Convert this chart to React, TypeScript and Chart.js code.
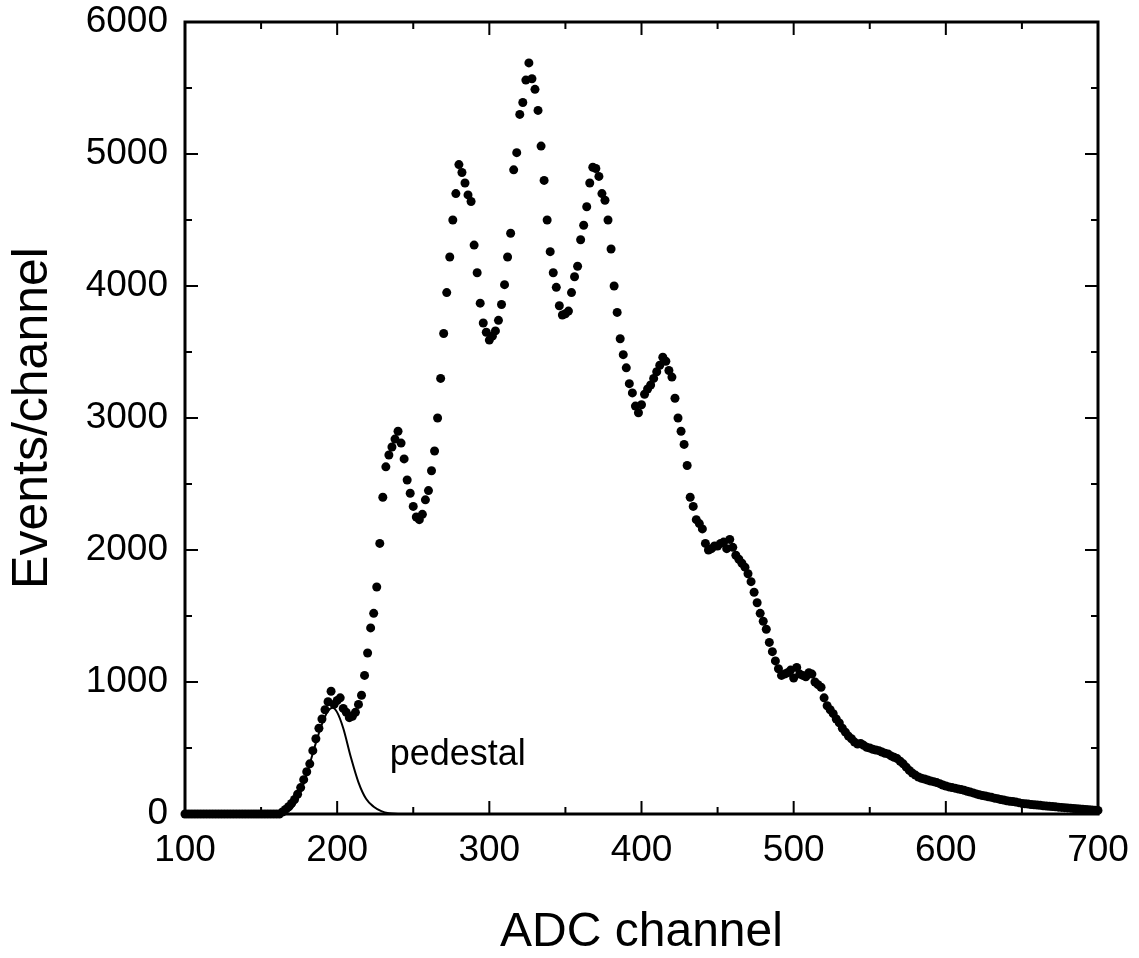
import React, { useEffect, useRef } from "react";
import { Chart, registerables } from "chart.js";

Chart.register(...registerables);

// ADC spectrum: counts per channel, channels 100..700 in steps of 2
const countsByRow: number[][] = [
  /* 100 */ [0, 0, 0, 0, 0, 0, 0, 0, 0, 0],
  /* 120 */ [0, 0, 0, 0, 0, 0, 0, 0, 0, 0],
  /* 140 */ [0, 0, 0, 0, 0, 0, 0, 0, 0, 0],
  /* 160 */ [0, 0, 15, 35, 55, 80, 110, 150, 200, 260],
  /* 180 */ [320, 380, 480, 570, 650, 720, 790, 850, 930, 830],
  /* 200 */ [860, 880, 800, 770, 730, 740, 770, 830, 900, 1050],
  /* 220 */ [1220, 1410, 1520, 1720, 2050, 2400, 2630, 2720, 2780, 2840],
  /* 240 */ [2900, 2810, 2690, 2530, 2430, 2330, 2250, 2230, 2270, 2380],
  /* 260 */ [2450, 2600, 2750, 3000, 3300, 3640, 3950, 4220, 4500, 4700],
  /* 280 */ [4920, 4860, 4780, 4690, 4640, 4310, 4100, 3870, 3720, 3650],
  /* 300 */ [3590, 3620, 3660, 3740, 3860, 4010, 4220, 4400, 4880, 5010],
  /* 320 */ [5300, 5390, 5560, 5690, 5570, 5490, 5330, 5060, 4800, 4500],
  /* 340 */ [4260, 4100, 3990, 3850, 3780, 3790, 3810, 3950, 4070, 4150],
  /* 360 */ [4350, 4460, 4600, 4780, 4900, 4890, 4830, 4700, 4650, 4500],
  /* 380 */ [4280, 4000, 3800, 3600, 3480, 3380, 3260, 3190, 3090, 3040],
  /* 400 */ [3100, 3180, 3220, 3250, 3300, 3350, 3400, 3460, 3430, 3360],
  /* 420 */ [3310, 3150, 3000, 2900, 2800, 2640, 2400, 2330, 2230, 2200],
  /* 440 */ [2160, 2050, 2000, 2010, 2030, 2030, 2050, 2060, 2010, 2080],
  /* 460 */ [2020, 1960, 1930, 1900, 1870, 1820, 1760, 1680, 1600, 1520],
  /* 480 */ [1460, 1400, 1300, 1230, 1160, 1100, 1050, 1060, 1070, 1090],
  /* 500 */ [1030, 1110, 1060, 1050, 1040, 1070, 1060, 1000, 980, 960],
  /* 520 */ [880, 820, 790, 760, 720, 690, 650, 620, 590, 570],
  /* 540 */ [545, 530, 535, 520, 505, 500, 490, 485, 480, 470],
  /* 560 */ [460, 455, 440, 430, 420, 400, 380, 355, 330, 310],
  /* 580 */ [295, 280, 270, 265, 258, 250, 245, 238, 230, 220],
  /* 600 */ [212, 205, 200, 196, 190, 186, 180, 172, 166, 160],
  /* 620 */ [152, 146, 140, 136, 130, 126, 120, 116, 110, 106],
  /* 640 */ [100, 96, 94, 90, 86, 80, 78, 76, 72, 70],
  /* 660 */ [68, 66, 62, 60, 58, 56, 54, 52, 50, 48],
  /* 680 */ [46, 44, 42, 40, 38, 36, 35, 33, 31, 29],
  /* 700 */ [27],
];
const firstChannel = 100;
const channelStep = 2;

// Pedestal fit curve
const pedestalChannels = [160, 165, 170, 175, 180, 185, 190, 194, 197, 200, 204, 209, 214, 219, 224, 229, 234, 240];
const pedestalCounts = [1, 10, 40, 140, 300, 500, 680, 780, 805, 770, 650, 430, 240, 115, 55, 22, 6, 0];

const xMajorTicks = [100, 200, 300, 400, 500, 600, 700];
const xMinorTicks = [150, 250, 350, 450, 550, 650];
const yMajorTicks = [0, 1000, 2000, 3000, 4000, 5000, 6000];
const yMinorTicks = [500, 1500, 2500, 3500, 4500, 5500];

const xTitle = "ADC channel";
const yTitle = "Events/channel";
const annotationText = "pedestal";
const annotationAt = { x: 234.5, y: 370 };

const FONT = "'Liberation Sans', Arial, Helvetica, sans-serif";

const framePlugin = {
  id: "frameTicks",
  beforeDatasetsDraw(chart: any) {
    const { ctx, chartArea: a, scales } = chart;
    const xs = scales.x;
    const ys = scales.y;
    ctx.save();
    ctx.strokeStyle = "#000";
    ctx.lineWidth = 2;
    ctx.beginPath();
    const major = 13;
    const minor = 7;
    xMajorTicks.forEach((v) => {
      const px = xs.getPixelForValue(v);
      ctx.moveTo(px, a.bottom); ctx.lineTo(px, a.bottom - major);
      ctx.moveTo(px, a.top); ctx.lineTo(px, a.top + major);
    });
    xMinorTicks.forEach((v) => {
      const px = xs.getPixelForValue(v);
      ctx.moveTo(px, a.bottom); ctx.lineTo(px, a.bottom - minor);
      ctx.moveTo(px, a.top); ctx.lineTo(px, a.top + minor);
    });
    yMajorTicks.forEach((v) => {
      const py = ys.getPixelForValue(v);
      ctx.moveTo(a.left, py); ctx.lineTo(a.left + major, py);
      ctx.moveTo(a.right, py); ctx.lineTo(a.right - major, py);
    });
    yMinorTicks.forEach((v) => {
      const py = ys.getPixelForValue(v);
      ctx.moveTo(a.left, py); ctx.lineTo(a.left + minor, py);
      ctx.moveTo(a.right, py); ctx.lineTo(a.right - minor, py);
    });
    ctx.stroke();
    ctx.lineWidth = 3;
    ctx.strokeRect(a.left, a.top, a.right - a.left, a.bottom - a.top);
    ctx.restore();
  },
  afterDraw(chart: any) {
    const { ctx, scales } = chart;
    ctx.save();
    ctx.fillStyle = "#000";
    ctx.font = `36px ${FONT}`;
    ctx.textAlign = "left";
    ctx.textBaseline = "alphabetic";
    ctx.fillText(
      annotationText,
      scales.x.getPixelForValue(annotationAt.x),
      scales.y.getPixelForValue(annotationAt.y)
    );
    ctx.restore();
  },
};

export default function App() {
  const ref = useRef<HTMLCanvasElement | null>(null);

  useEffect(() => {
    document.body.style.margin = "0";
    document.body.style.overflow = "hidden";
    const counts = countsByRow.flat();
    const points = counts.map((c, i) => ({ x: firstChannel + channelStep * i, y: c }));
    const pedestal = pedestalChannels.map((c, i) => ({ x: c, y: pedestalCounts[i] }));

    const chart = new Chart(ref.current as HTMLCanvasElement, {
      type: "scatter",
      data: {
        datasets: [
          {
            label: "pedestal",
            data: pedestal,
            showLine: true,
            borderColor: "#000",
            borderWidth: 2,
            pointRadius: 0,
            cubicInterpolationMode: "monotone",
            clip: false,
          } as any,
          {
            label: "data",
            data: points,
            backgroundColor: "#000",
            borderColor: "#000",
            pointRadius: 4.5,
            borderWidth: 0,
            clip: false,
          } as any,
        ],
      },
      options: {
        responsive: false,
        animation: false,
        layout: { padding: { top: 22, right: 41, left: 0, bottom: 0 } },
        plugins: {
          legend: { display: false },
          tooltip: { enabled: false },
        },
        scales: {
          x: {
            type: "linear",
            min: 100,
            max: 700,
            afterFit: (s: any) => {
              s.height = 144;
              s.paddingLeft = 0;
              s.paddingRight = 0;
            },
            afterBuildTicks: (s: any) => { s.ticks = xMajorTicks.map((v) => ({ value: v })); },
            grid: { display: false, drawTicks: false },
            border: { display: false },
            ticks: {
              padding: 15,
              color: "#000",
              font: { family: FONT, size: 37 },
              maxRotation: 0,
              callback: (v: any) => String(v),
            },
            title: {
              display: true,
              text: xTitle,
              color: "#000",
              font: { family: FONT, size: 48, lineHeight: 1 },
              padding: { top: 0, bottom: 1 },
            },
          },
          y: {
            type: "linear",
            min: 0,
            max: 6000,
            afterFit: (s: any) => {
              s.width = 185;
              s.paddingTop = 0;
              s.paddingBottom = 0;
            },
            afterBuildTicks: (s: any) => { s.ticks = yMajorTicks.map((v) => ({ value: v })); },
            grid: { display: false, drawTicks: false },
            border: { display: false },
            ticks: {
              padding: 17,
              color: "#000",
              font: { family: FONT, size: 37 },
              callback: (v: any) => String(v),
            },
            title: {
              display: true,
              text: yTitle,
              color: "#000",
              font: { family: FONT, size: 50, lineHeight: 1 },
              padding: { top: 8, bottom: 0 },
            },
          },
        },
      },
      plugins: [framePlugin],
    });
    return () => chart.destroy();
  }, []);

  return (
    <div style={{ width: 1139, height: 958, background: "#fff" }}>
      <canvas ref={ref} width={1139} height={958} style={{ display: "block" }} />
    </div>
  );
}
